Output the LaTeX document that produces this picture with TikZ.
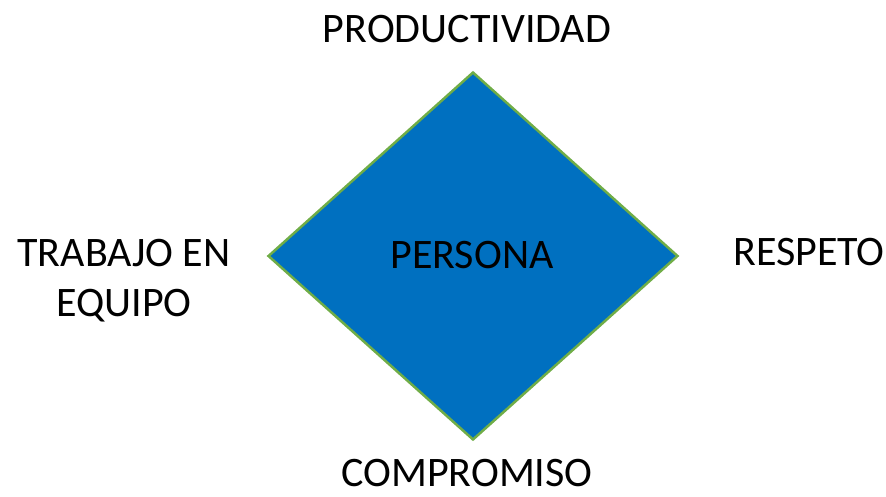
\documentclass[tikz,border=0pt]{standalone}
\usepackage{fontspec}
\setmainfont{Carlito}
\usetikzlibrary{shapes.geometric,positioning}
\definecolor{persblue}{HTML}{0070C0}
\definecolor{persgreen}{HTML}{70AD47}

\begin{document}
\begin{tikzpicture}[x=1pt,y=1pt,
  label/.style={font=\fontsize{42}{50}\selectfont,inner sep=0pt,anchor=base,align=center},
  core/.style={diamond,draw=persgreen,line width=2.5pt,fill=persblue,inner sep=0pt,
    minimum width=410pt,minimum height=368pt}]
 \useasboundingbox (0,0) rectangle (886,496);
 % central diamond
 \node[core] (persona) at (473,240) {};
 \node[label] (ptext) at (472,227) {PERSONA};

 % values round the person
 \node[label] (prod) at (467,453) {PRODUCTIVIDAD};
 \node[label] (comp) at (467,10) {COMPROMISO};
 \node[label] (resp) at (809,230) {RESPETO};
 \node[label] (trab) at (124,180) {TRABAJO EN\\EQUIPO};
\end{tikzpicture}
\end{document}
